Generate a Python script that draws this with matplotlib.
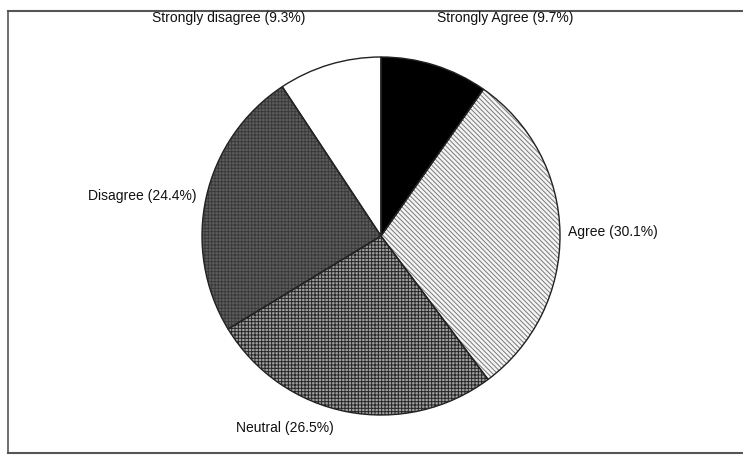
import matplotlib
matplotlib.use("Agg")
import matplotlib.pyplot as plt

# survey responses, clockwise from 12 o'clock
categories = ["Strongly Agree", "Agree", "Neutral", "Disagree", "Strongly disagree"]
shares = [9.7, 30.1, 26.5, 24.4, 9.3]

faces = ["#000000", "#f4f4f4", "#a0a0a0", "#5e5e5e", "#ffffff"]
hatch_cols = ["#000000", "#7a7a7a", "#262626", "#3a3a3a", "#ffffff"]
hatches = [None, "\\" * 7, "+" * 5, "+" * 5, None]

# label anchor points (pixels from top-left) and alignment
label_pos = [(437, 18, "left"), (568, 232, "left"), (236, 428, "left"),
             (197, 196, "right"), (305, 18, "right")]

plt.rcParams["font.family"] = ["Liberation Sans", "DejaVu Sans"]
plt.rcParams["hatch.linewidth"] = 0.7

W, H = 743, 469
fig = plt.figure(figsize=(W / 100, H / 100), dpi=100)
ax = fig.add_axes([0, 0, 1, 1])

cx, cy, r = 381, H - 236, 179

# fill pass (hatch colour follows edge colour)
wedges, _ = ax.pie(shares, startangle=90, counterclock=False, colors=faces,
                   center=(cx, cy), radius=r, frame=True,
                   wedgeprops=dict(linewidth=0))
for w, hc, ht in zip(wedges, hatch_cols, hatches):
    w.set_edgecolor(hc)
    w.set_linewidth(0)
    if ht:
        w.set_hatch(ht)

# outline pass
ax.pie(shares, startangle=90, counterclock=False, center=(cx, cy), radius=r,
       frame=True, wedgeprops=dict(fill=False, edgecolor="#222222", linewidth=1.0))
ax.set_xlim(0, W)
ax.set_ylim(0, H)
ax.set_aspect("equal")
ax.axis("off")

for cat, val, (x, y, ha) in zip(categories, shares, label_pos):
    ax.text(x, H - y, f"{cat} ({val}%)", ha=ha, va="center", fontsize=10, color="#111111")

# frame around the chart
ax.plot([8, W], [H - 11, H - 11], color="#555555", lw=1.5)
ax.plot([8, W], [H - 453, H - 453], color="#555555", lw=1.5)
ax.plot([8, 8], [H - 11, H - 453], color="#555555", lw=1.2)

fig.savefig("out.png", dpi=100)
